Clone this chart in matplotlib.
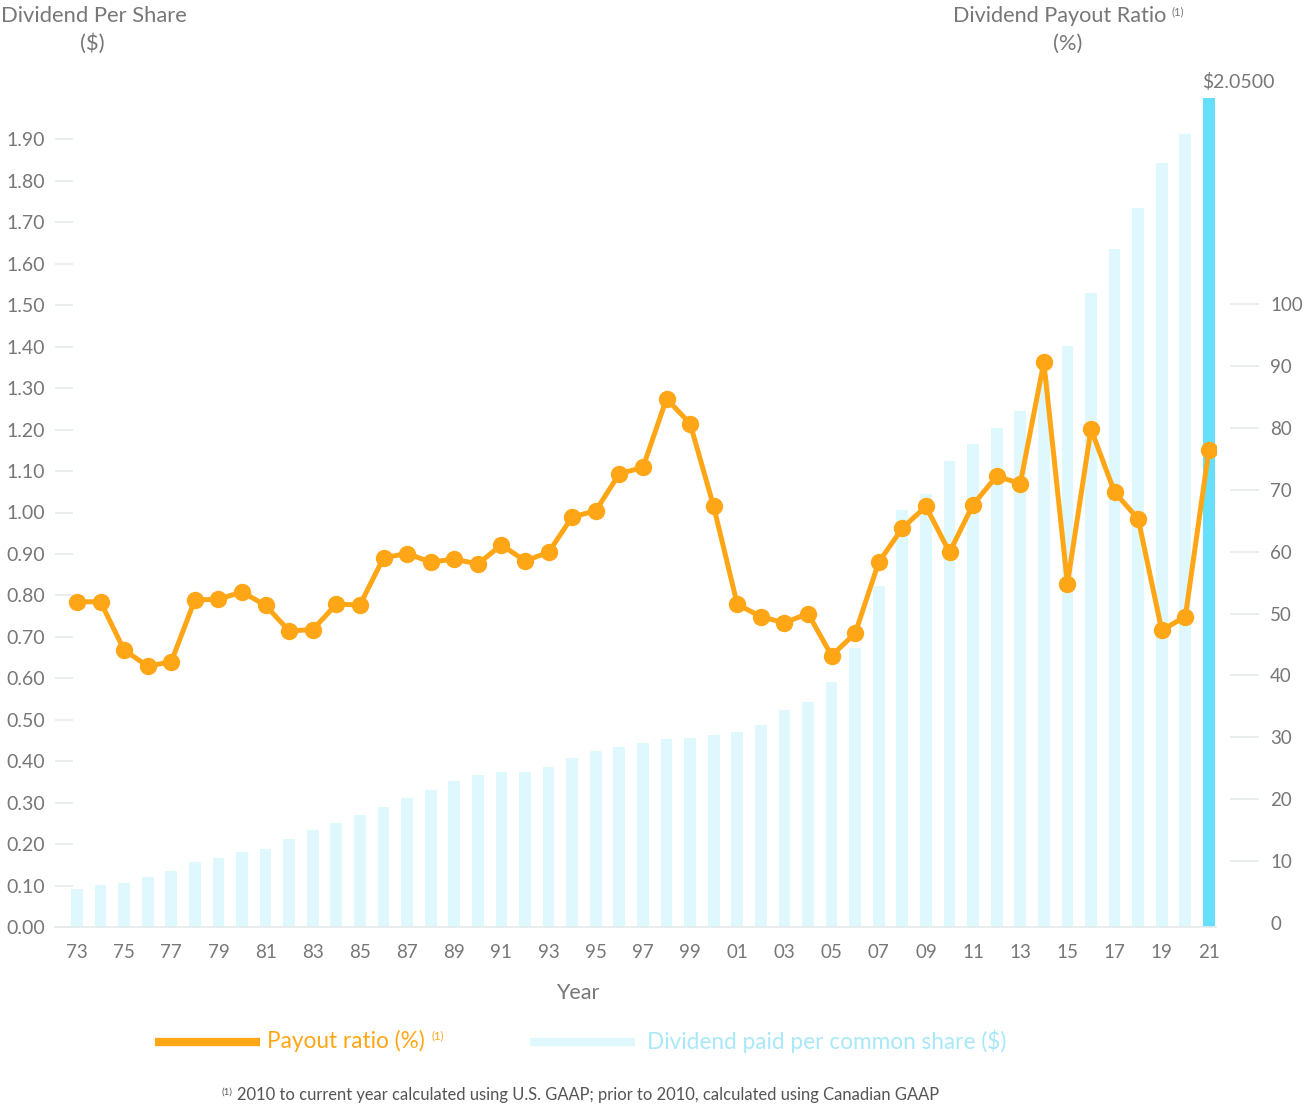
import matplotlib
matplotlib.use("Agg")
import matplotlib.pyplot as plt
from matplotlib.lines import Line2D
import matplotlib.transforms as mtransforms

plt.rcParams['font.family'] = ['Lato', 'DejaVu Sans']

# ---------------- data ----------------
years = list(range(1973, 2022))
dividend = [0.092, 0.101, 0.106, 0.121, 0.135, 0.157, 0.166, 0.181, 0.188, 0.212,
            0.234, 0.251, 0.270, 0.290, 0.312, 0.331, 0.352, 0.367, 0.373, 0.375,
            0.387, 0.408, 0.425, 0.434, 0.444, 0.453, 0.456, 0.463, 0.470, 0.487,
            0.523, 0.543, 0.591, 0.673, 0.823, 1.005, 1.044, 1.124, 1.165, 1.205,
            1.245, 1.320, 1.401, 1.529, 1.635, 1.734, 1.842, 1.913, 2.050]
payout = [51.9, 51.9, 44.1, 41.5, 42.2, 52.2, 52.3, 53.5, 51.3, 47.2,
          47.4, 51.5, 51.4, 59.0, 59.7, 58.3, 58.8, 58.0, 61.1, 58.5,
          59.9, 65.6, 66.6, 72.6, 73.6, 84.7, 80.7, 67.3, 51.5, 49.5,
          48.5, 50.0, 43.2, 46.8, 58.3, 63.8, 67.3, 59.9, 67.6, 72.2,
          71.0, 90.6, 54.8, 79.8, 69.6, 65.3, 47.3, 49.5, 76.5]
left_ticks = [i / 10 for i in range(0, 20)]
right_ticks = list(range(0, 101, 10))
xtick_years = list(range(1973, 2022, 2))
xtick_labels = [f"{y % 100:02d}" for y in xtick_years]
last_label = "$2.0500"

ORANGE = '#ffa616'
LIGHT = '#dff8fd'
BRIGHT = '#66dffd'
GRAY = '#777777'
TICKGRAY = '#e6eaea'
LEGBLUE = '#a8e8f8'

W, H = 1308, 1106
fig = plt.figure(figsize=(W / 100, H / 100), dpi=100)
ax = fig.add_axes([55 / W, 1 - 927 / H, (1216 - 55) / W, (927 - 98) / H])

colors = [LIGHT] * (len(years) - 1) + [BRIGHT]
ax.bar(years, dividend, width=0.5, color=colors, zorder=2)
ax.set_xlim(1972.07, 2021.3)
ax.set_ylim(0, 2.0)

for s in ['top', 'right', 'left']:
    ax.spines[s].set_visible(False)
ax.spines['bottom'].set_color(TICKGRAY)
ax.spines['bottom'].set_linewidth(1.2)

ax.set_yticks(left_ticks)
ax.set_yticklabels([f"{v:.2f}" for v in left_ticks])
ax.tick_params(axis='y', direction='in', length=13, width=1.2, color=TICKGRAY,
               labelsize=14, labelcolor=GRAY, pad=7)
ax.set_xticks(xtick_years)
ax.set_xticklabels(xtick_labels)
ax.tick_params(axis='x', length=0, labelsize=13.5, labelcolor=GRAY, pad=12)

# label on last bar
trans = mtransforms.blended_transform_factory(ax.transData, ax.transAxes)
ax.text(years[-1] - 0.29, 1.019, last_label, transform=trans, ha='left', va='center',
        fontsize=14, color=GRAY, clip_on=False)

# payout line on right axis
ax2 = ax.twinx()
ax2.plot(years, payout, color=ORANGE, lw=3.6, marker='o', markersize=11.5,
         markerfacecolor=ORANGE, markeredgecolor=ORANGE, zorder=3)
ax2.set_ylim(-0.65, 133.3)
for s in ['top', 'left', 'bottom']:
    ax2.spines[s].set_visible(False)
ax2.spines['right'].set_position(('outward', 10))
ax2.spines['right'].set_visible(False)
ax2.set_yticks(right_ticks)
ax2.tick_params(axis='y', direction='out', length=21, width=1.2, color=TICKGRAY,
                labelsize=13.5, labelcolor=GRAY, pad=8)
ax2.yaxis.get_major_ticks()[0].tick2line.set_visible(False)

# titles
fig.text(1 / W, 1 - 16 / H, "Dividend Per Share", ha='left', va='center',
         fontsize=15.8, color=GRAY)
fig.text(92 / W, 1 - 44 / H, "($)", ha='center', va='center', fontsize=15.8, color=GRAY)
fig.text(953 / W, 1 - 16 / H, "Dividend Payout Ratio", ha='left', va='center',
         fontsize=15.6, color=GRAY)
fig.text(1171 / W, 1 - 12 / H, "(1)", ha='left', va='center', fontsize=8, color=GRAY)
fig.text(1068 / W, 1 - 44 / H, "(%)", ha='center', va='center', fontsize=15.8, color=GRAY)

fig.text(578 / W, 1 - 993 / H, "Year", ha='center', va='center', fontsize=15.5, color=GRAY)

# legend
fig.add_artist(Line2D([155 / W, 260 / W], [1 - 1042 / H] * 2, transform=fig.transFigure,
                      color=ORANGE, lw=6, solid_capstyle='butt'))
fig.text(267 / W, 1 - 1041 / H, "Payout ratio (%)", ha='left', va='center',
         fontsize=16.3, color=ORANGE)
fig.text(432 / W, 1 - 1036 / H, "(1)", ha='left', va='center', fontsize=8, color=ORANGE)
fig.add_artist(Line2D([530 / W, 635 / W], [1 - 1042 / H] * 2, transform=fig.transFigure,
                      color=LIGHT, lw=6, solid_capstyle='butt'))
fig.text(647 / W, 1 - 1041 / H, "Dividend paid per common share ($)", ha='left', va='center',
         fontsize=16.3, color=LEGBLUE)

# footnote
fig.text(221 / W, 1 - 1092 / H, "(1)", ha='left', va='center', fontsize=7, color='#555555')
fig.text(237 / W, 1 - 1095 / H,
         "2010 to current year calculated using U.S. GAAP; prior to 2010, calculated using Canadian GAAP",
         ha='left', va='center', fontsize=11.9, color='#555555')

fig.savefig("out.png", dpi=100)
